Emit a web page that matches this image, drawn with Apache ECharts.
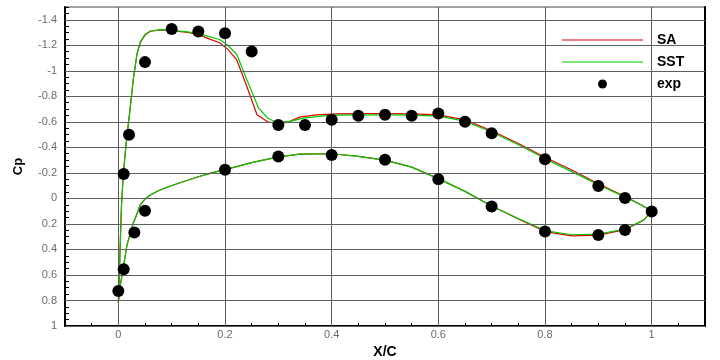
<!DOCTYPE html>
<html>
<head>
<meta charset="utf-8">
<script src="https://cdn.jsdelivr.net/npm/echarts@6/dist/echarts.min.js"></script>
<style>
html,body{margin:0;padding:0;background:#fff;}
#chart{width:720px;height:360px;}
</style>
</head>
<body>
<div id="chart"></div>
<script>
// ---- tick labels ----
const xTickLabels = [0, 0.2, 0.4, 0.6, 0.8, 1];
const yTickLabels = [-1.4, -1.2, -1, -0.8, -0.6, -0.4, -0.2, 0, 0.2, 0.4, 0.6, 0.8, 1];

// ---- SA curve (upper surface TE -> LE, then lower surface LE -> TE) ----
const saX = [1.0, 0.98, 0.95, 0.9, 0.85, 0.8, 0.75, 0.7, 0.65, 0.6, 0.55, 0.5, 0.45, 0.41, 0.37, 0.34, 0.316, 0.3, 0.28, 0.26, 0.241, 0.222, 0.205, 0.19, 0.17, 0.15, 0.13, 0.1, 0.08, 0.06, 0.05, 0.041, 0.035, 0.028, 0.022, 0.017, 0.013, 0.009, 0.006, 0.004, 0.002, 0,
  0.003, 0.009, 0.016, 0.022, 0.028, 0.035, 0.041, 0.05, 0.06, 0.075, 0.09, 0.11, 0.13, 0.15, 0.175, 0.2, 0.25, 0.3, 0.34, 0.4, 0.45, 0.5, 0.55, 0.6, 0.65, 0.7, 0.75, 0.8, 0.85, 0.9, 0.95, 0.985, 1.0];
const saCp = [0.1, 0.05, -0.015, -0.115, -0.222, -0.322, -0.43, -0.53, -0.615, -0.655, -0.662, -0.665, -0.665, -0.662, -0.655, -0.637, -0.595, -0.585, -0.6, -0.655, -0.877, -1.086, -1.17, -1.22, -1.25, -1.285, -1.3, -1.315, -1.32, -1.31, -1.28, -1.22, -1.13, -0.93, -0.7, -0.52, -0.36, -0.17, 0.05, 0.3, 0.58, 0.82,
  0.7, 0.55, 0.37, 0.28, 0.195, 0.12, 0.05, 0.005, -0.027, -0.06, -0.085, -0.115, -0.142, -0.17, -0.2, -0.225, -0.28, -0.325, -0.347, -0.35, -0.33, -0.3, -0.245, -0.155, -0.055, 0.06, 0.162, 0.26, 0.293, 0.288, 0.245, 0.17, 0.1];

// ---- SST curve ----
const sstX = [1.0, 0.98, 0.95, 0.9, 0.85, 0.8, 0.75, 0.7, 0.65, 0.6, 0.55, 0.5, 0.45, 0.41, 0.385, 0.347, 0.322, 0.296, 0.28, 0.263, 0.241, 0.222, 0.205, 0.19, 0.17, 0.15, 0.13, 0.1, 0.08, 0.06, 0.05, 0.041, 0.035, 0.028, 0.022, 0.017, 0.013, 0.009, 0.006, 0.004, 0.002, 0,
  0.003, 0.009, 0.016, 0.022, 0.028, 0.035, 0.041, 0.05, 0.06, 0.075, 0.09, 0.11, 0.13, 0.15, 0.175, 0.2, 0.25, 0.3, 0.34, 0.4, 0.45, 0.5, 0.55, 0.6, 0.65, 0.7, 0.75, 0.8, 0.85, 0.9, 0.95, 0.985, 1.0];
const sstCp = [0.1, 0.05, -0.01, -0.107, -0.21, -0.312, -0.42, -0.52, -0.605, -0.645, -0.652, -0.655, -0.655, -0.652, -0.647, -0.629, -0.603, -0.595, -0.63, -0.707, -0.93, -1.13, -1.2, -1.245, -1.268, -1.292, -1.305, -1.318, -1.322, -1.312, -1.285, -1.225, -1.135, -0.935, -0.7, -0.52, -0.36, -0.17, 0.05, 0.3, 0.58, 0.82,
  0.7, 0.55, 0.37, 0.28, 0.195, 0.12, 0.05, 0.005, -0.027, -0.06, -0.085, -0.115, -0.142, -0.17, -0.2, -0.225, -0.28, -0.325, -0.347, -0.35, -0.33, -0.3, -0.245, -0.155, -0.055, 0.06, 0.158, 0.252, 0.285, 0.28, 0.24, 0.17, 0.1];

// ---- experiment ----
const expX = [0, 0.01, 0.03, 0.05, 0.01, 0.02, 0.05, 0.1, 0.15, 0.2, 0.25, 0.3, 0.35, 0.4, 0.45, 0.5, 0.55, 0.6, 0.65, 0.7, 0.8, 0.9, 0.95, 1.0, 0.2, 0.3, 0.4, 0.5, 0.6, 0.7, 0.8, 0.9, 0.95];
const expCp = [0.725, 0.555, 0.268, 0.096, -0.192, -0.498, -1.068, -1.327, -1.308, -1.295, -1.151, -0.576, -0.576, -0.616, -0.647, -0.655, -0.647, -0.665, -0.6, -0.51, -0.307, -0.098, -0.003, 0.103, -0.224, -0.328, -0.341, -0.302, -0.15, 0.064, 0.26, 0.286, 0.247];

const pairs = (xs, ys) => xs.map((x, i) => [x, ys[i]]);
const inList = (v, list) => list.some(t => Math.abs(t - v) < 1e-6);
const fmt = v => { const r = Math.round(v * 10) / 10; return String(r); };

const gridLines = xTickLabels.map(v => ({ xAxis: v })).concat(yTickLabels.map(v => ({ yAxis: v })));
const legendText = { fontFamily: 'Liberation Sans, Arial', fontWeight: 'bold', fontSize: 14, color: '#000', lineHeight: 16, padding: [0, 0, 0, 9] };
const lineIcon = 'path://M0,0L0,0M0,10L0,10M0,4.4L81,4.4L81,5.6L0,5.6Z';
const dotIcon = 'path://M0,0L0,0M81,10L81,10M36,5A4.5,4.5 0 1 0 45,5A4.5,4.5 0 1 0 36,5Z';

const chart = echarts.init(document.getElementById('chart'));
chart.setOption({
  animation: false,
  backgroundColor: '#fff',
  grid: { left: 65, right: 15, top: 7, bottom: 34, show: true, borderColor: '#444', borderWidth: 1,
    containLabel: false, outerBoundsMode: 'none' },
  legend: {
    data: [{ name: 'SA', icon: lineIcon }, { name: 'SST', icon: lineIcon }, { name: 'exp', icon: dotIcon }],
    orient: 'vertical',
    left: 557, top: 27,
    itemWidth: 81, itemHeight: 10, itemGap: 6,
    textStyle: legendText
  },
  xAxis: [{
    type: 'value', min: -0.1, max: 1.1, interval: 0.05,
    name: 'X/C', nameLocation: 'middle', nameGap: 7,
    nameTextStyle: { fontFamily: 'Liberation Sans, Arial', fontWeight: 'bold', fontSize: 14, color: '#000' },
    axisLine: { show: true, onZero: false, lineStyle: { color: '#000', width: 2 } },
    axisTick: { show: true, inside: true, length: 3, lineStyle: { color: '#000' } },
    axisLabel: { margin: 3, fontFamily: 'Liberation Sans, Arial', fontSize: 11, color: '#6a6a6a',
      formatter: v => inList(v, xTickLabels) ? fmt(v) : '' },
    splitLine: { show: false }
  }],
  yAxis: [{
    type: 'value', min: -1.5, max: 1, interval: 0.05, inverse: true,
    name: 'Cp', nameLocation: 'middle', nameGap: 40, nameRotate: 90,
    nameTextStyle: { fontFamily: 'Liberation Sans, Arial', fontWeight: 'bold', fontSize: 13, color: '#000' },
    axisLine: { show: true, onZero: false, lineStyle: { color: '#000', width: 2 } },
    axisTick: { show: true, inside: true, length: 4, lineStyle: { color: '#000' } },
    axisLabel: { margin: 8, fontFamily: 'Liberation Sans, Arial', fontSize: 11, color: '#6a6a6a',
      formatter: v => inList(v, yTickLabels) ? fmt(v) : '' },
    splitLine: { show: false }
  }, {
    type: 'value', min: -1.5, max: 1, inverse: true, position: 'right',
    axisLine: { show: true, onZero: false, lineStyle: { color: '#000', width: 2 } },
    axisTick: { show: false }, axisLabel: { show: false }, splitLine: { show: false }
  }],
  series: [
    {
      name: 'grid', type: 'line', data: [], z: 1, silent: true,
      markLine: {
        silent: true, symbol: ['none', 'none'], label: { show: false },
        lineStyle: { color: '#5e5e5e', width: 1, type: 'solid' },
        emphasis: { disabled: true },
        data: gridLines
      }
    },
    { name: 'SA', type: 'line', data: pairs(saX, saCp), symbol: 'none', z: 3,
      lineStyle: { color: '#e00000', width: 1.2 }, itemStyle: { color: '#e00000' } },
    { name: 'SST', type: 'line', data: pairs(sstX, sstCp), symbol: 'none', z: 4,
      lineStyle: { color: '#00cc00', width: 1.2 }, itemStyle: { color: '#00cc00' } },
    { name: 'exp', type: 'scatter', data: pairs(expX, expCp), symbol: 'circle', symbolSize: 12, z: 5,
      itemStyle: { color: '#000', opacity: 1 } }
  ]
});
</script>
</body>
</html>
